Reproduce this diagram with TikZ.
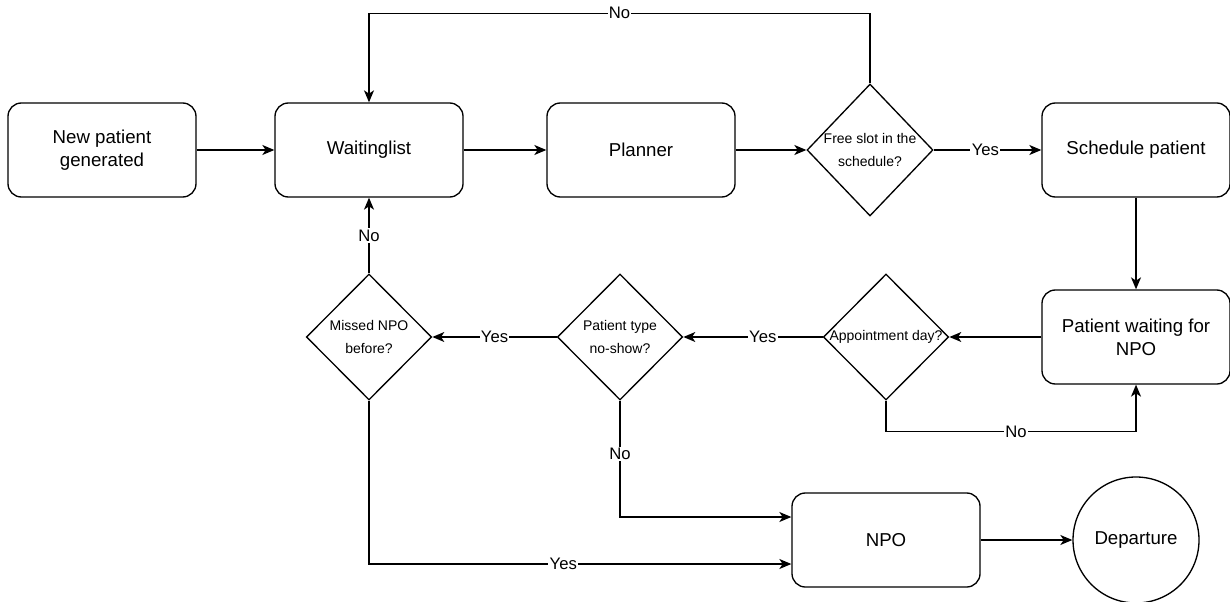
\documentclass[tikz,border=0pt]{standalone}
\usepackage{fontspec}
\setmainfont{Liberation Sans}
\usetikzlibrary{shapes.geometric,arrows.meta,calc}
\begin{document}
\begin{tikzpicture}[x=0.75pt,y=-0.75pt,
  box/.style={draw,line width=1pt,rounded corners=10pt,minimum width=141pt,minimum height=70.5pt,
    align=center,font=\fontsize{14}{17}\selectfont},
  dia/.style={draw,line width=1pt,diamond,inner sep=0pt,minimum width=94pt,minimum height=94.5pt},
  dtext/.style={align=center,font=\fontsize{10.5}{17}\selectfont},
  term/.style={draw,line width=1pt,circle,minimum size=94.5pt,inner sep=0pt,font=\fontsize{14}{17}\selectfont},
  arr/.style={line width=1pt,-{Stealth[length=9pt,width=7.5pt,inset=2.5pt]}},
  elab/.style={fill=white,inner sep=1pt,font=\fontsize{12.5}{14}\selectfont}]
\useasboundingbox (0,0) rectangle (1230,602);

% process boxes
\node[box] (new) at (102,150) {New patient\\generated};
\node[box] (wl) at (369,150) {Waitinglist};
\node[box] (pl) at (641,150) {Planner};
\node[box] (sp) at (1136,150) {Schedule patient};
\node[box] (pw) at (1136,337) {Patient waiting for\\NPO};
\node[box] (npo) at (886,540) {NPO};
\node[term] (dep) at (1136,540) {Departure};

% decisions
\node[dia,minimum width=94.5pt,minimum height=99pt,label={[dtext]center:Free slot in the\\schedule?}] (fs) at (870,150) {};
\node[dia,label={[dtext]center:Appointment day?}] (ad) at (886,337) {};
\node[dia,label={[dtext]center:Patient type\\no-show?}] (pt) at (620,337) {};
\node[dia,label={[dtext]center:Missed NPO\\before?}] (mn) at (369,337) {};

% main flow
\draw[arr] (new) -- (wl);
\draw[arr] (wl) -- (pl);
\draw[arr] (pl) -- (fs);
\draw[arr] (fs) -- node[elab,pos=0.48]{Yes} (sp);
\draw[arr] (fs.north) -- ++(0,-70) -| node[elab,pos=0.25]{No} (wl.north);
\draw[arr] (sp) -- (pw);
\draw[arr] (pw) -- (ad);
\draw[arr] (ad.south) -- ++(0,31) -| node[elab,pos=0.26]{No} (pw.south);
\draw[arr] (ad) -- node[elab,pos=0.43]{Yes} (pt);
\draw[arr] (pt) -- node[elab]{Yes} (mn);
\draw[arr] (pt.south) |- node[elab,pos=0.23]{No} ($(npo.west)+(0,-23)$);
\draw[arr] (mn) -- node[elab]{No} (wl);
\draw[arr] (mn.south) |- node[elab,pos=0.73]{Yes} ($(npo.west)+(0,24)$);
\draw[arr] (npo) -- (dep);
\end{tikzpicture}
\end{document}
